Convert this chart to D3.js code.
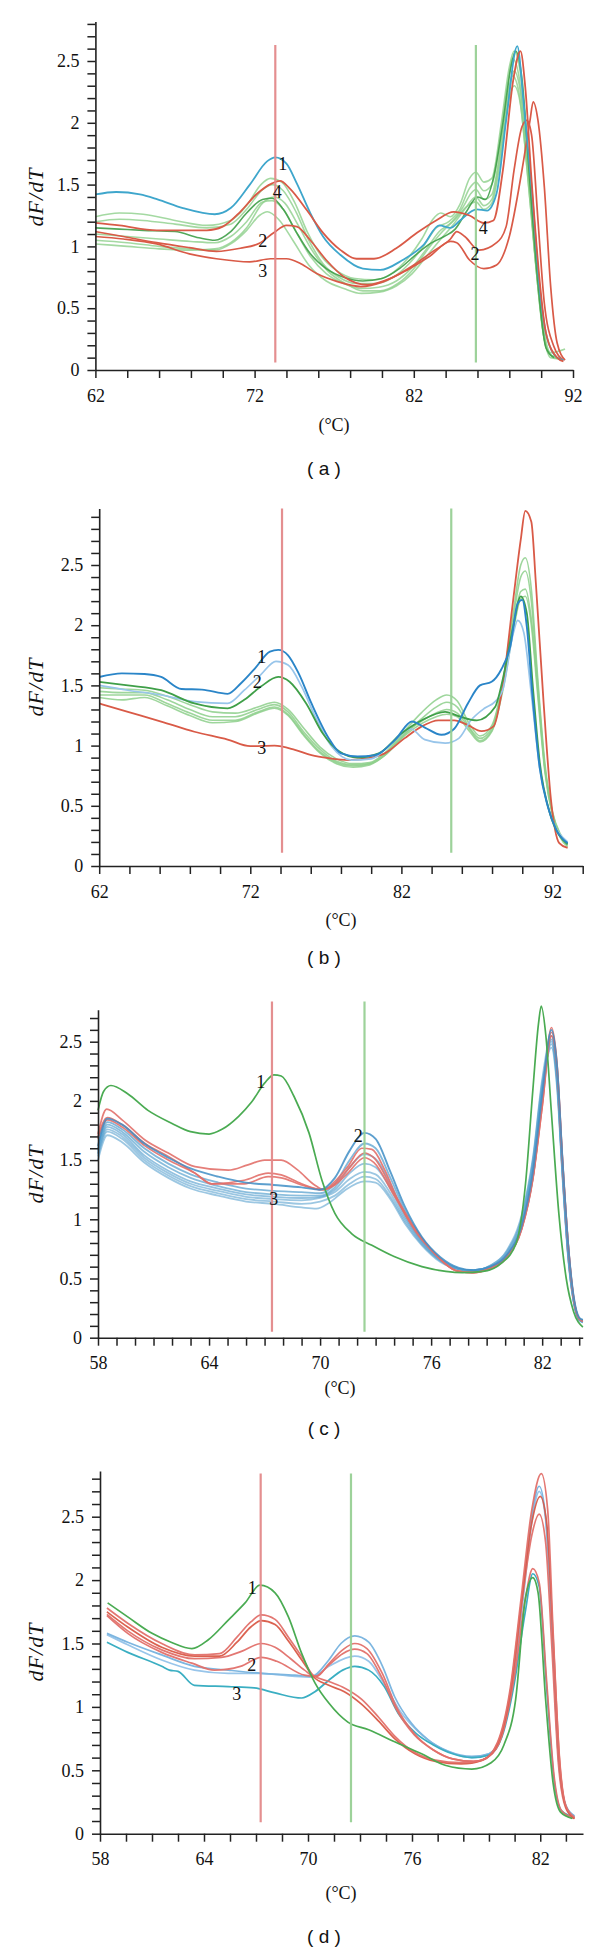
<!DOCTYPE html>
<html><head><meta charset="utf-8">
<script src="https://cdn.jsdelivr.net/npm/d3@7"></script>
<style>body{margin:0;background:#fff}</style>
</head><body>
<svg id="c" width="600" height="1956"></svg>
<script>
// ---------------- Panel (a) data: [temperature °C, dF/dT] ----------------
const aBlue1 = [[62,1.42],[63.3,1.44],[64.8,1.42],[65.9,1.38],[67.5,1.31],[69.5,1.26],[70.5,1.31],[71.7,1.50],[72.8,1.69],[73.3,1.72],[74.0,1.67],[74.65,1.51],[75.5,1.27],[76.3,1.08],[77.4,0.93],[78.8,0.82],[79.9,0.81],[81.3,0.89],[82.6,1.01],[83.6,1.17],[84.3,1.15],[84.9,1.21],[85.95,1.30],[86.6,1.29],[87.2,1.43],[87.8,2.02],[88.5,2.62],[88.9,2.16],[89.4,1.48],[89.9,0.67],[90.35,0.27],[91.0,0.10],[91.4,0.08]];
const aRed4 = [[62,1.19],[63.5,1.17],[65.85,1.13],[69,1.13],[70,1.16],[71.1,1.28],[72.1,1.42],[73.1,1.51],[73.6,1.53],[74.2,1.47],[75.3,1.29],[76.3,1.11],[77.4,0.97],[78.4,0.90],[79.5,0.90],[80.9,0.985],[82.2,1.11],[83.4,1.21],[84.5,1.28],[85.5,1.25],[86.4,1.19],[87.0,1.21],[87.6,1.62],[88.25,2.35],[88.7,2.58],[89.0,2.29],[89.4,1.53],[89.9,0.73],[90.3,0.30],[91,0.10],[91.4,0.07]];
const aRed2 = [[62,1.12],[63.75,1.08],[65.85,1.03],[67.9,0.99],[69.6,0.96],[71.1,0.985],[72.3,1.025],[73.2,1.11],[74.0,1.17],[74.65,1.16],[75.5,1.05],[76.5,0.89],[77.6,0.755],[79.1,0.69],[80.5,0.74],[82,0.85],[83.2,0.96],[84.3,1.06],[84.7,1.12],[85.2,1.08],[86.1,0.97],[87.2,1.03],[87.8,1.16],[88.3,1.62],[88.8,1.97],[89.1,2.02],[89.4,1.90],[89.8,1.21],[90.2,0.54],[90.8,0.19],[91.4,0.08]];
const aRed3 = [[62,1.08],[63.75,1.06],[65.85,1.02],[67.9,0.94],[69.6,0.90],[71.7,0.875],[73.0,0.90],[74,0.90],[74.9,0.86],[75.9,0.78],[77.2,0.715],[78.7,0.675],[80.1,0.715],[81.6,0.81],[83,0.92],[84.3,1.04],[84.7,1.03],[85.5,0.89],[86.4,0.82],[87.2,0.85],[88.0,1.08],[88.8,1.62],[89.3,2.02],[89.5,2.17],[89.8,2.02],[90.2,1.48],[90.6,0.67],[91.0,0.22],[91.5,0.08]];
const aGreenDark = [[62,1.15],[63.5,1.14],[65,1.13],[67,1.12],[68.5,1.07],[69.5,1.05],[70.5,1.12],[71.5,1.27],[72.5,1.38],[73.1,1.39],[73.8,1.30],[74.6,1.12],[75.5,0.94],[76.5,0.82],[77.6,0.75],[78.8,0.72],[80,0.74],[81.1,0.82],[82.1,0.93],[83,1.02],[83.9,1.08],[84.6,1.14],[85.3,1.28],[86,1.40],[86.5,1.38],[87,1.55],[87.6,2.00],[88.1,2.45],[88.4,2.58],[88.8,2.35],[89.3,1.50],[89.8,0.70],[90.3,0.18],[90.8,0.10]];
const aGreen1 = [[62,1.24],[63.5,1.27],[65,1.26],[67,1.21],[69,1.17],[70.5,1.21],[71.5,1.33],[72.4,1.50],[73,1.55],[73.7,1.52],[74.5,1.36],[75.3,1.12],[76.2,0.92],[77.2,0.80],[78.3,0.74],[79.5,0.73],[80.6,0.78],[81.6,0.90],[82.5,1.06],[83.2,1.22],[83.7,1.27],[84.3,1.24],[84.9,1.34],[85.5,1.55],[85.9,1.60],[86.4,1.52],[86.9,1.55],[87.5,2.00],[88.0,2.45],[88.3,2.58],[88.7,2.40],[89.2,1.70],[89.7,0.90],[90.2,0.30],[90.6,0.14],[91.5,0.17]];
const aGreen2 = [[62,1.20],[63.5,1.22],[65,1.21],[67,1.18],[69,1.15],[70.5,1.18],[71.5,1.30],[72.5,1.46],[73.1,1.50],[73.8,1.45],[74.6,1.28],[75.4,1.05],[76.3,0.86],[77.3,0.75],[78.4,0.70],[79.6,0.70],[80.7,0.75],[81.7,0.86],[82.6,1.00],[83.4,1.15],[84.2,1.20],[84.9,1.30],[85.5,1.47],[85.9,1.52],[86.4,1.45],[86.9,1.50],[87.5,1.95],[88.0,2.40],[88.2,2.52],[88.6,2.38],[89.1,1.75],[89.6,0.95],[90.1,0.32],[90.5,0.13],[91.0,0.10]];
const aGreen3 = [[62,1.10],[64,1.08],[66,1.06],[68,1.04],[69.5,1.03],[70.5,1.08],[71.5,1.20],[72.5,1.36],[73.1,1.37],[73.8,1.30],[74.6,1.12],[75.5,0.92],[76.5,0.78],[77.6,0.70],[78.7,0.66],[79.8,0.67],[80.9,0.72],[81.9,0.83],[82.8,0.98],[83.6,1.12],[84.4,1.20],[85.1,1.32],[85.6,1.43],[85.9,1.46],[86.4,1.38],[86.9,1.42],[87.5,1.85],[88.0,2.30],[88.3,2.42],[88.7,2.25],[89.2,1.60],[89.7,0.80],[90.2,0.25],[90.6,0.10],[91.2,0.09]];
const aGreen4 = [[62,1.05],[64,1.03],[66,1.00],[68,0.98],[69.5,0.97],[70.5,1.02],[71.5,1.13],[72.3,1.25],[72.8,1.28],[73.5,1.22],[74.4,1.05],[75.4,0.85],[76.5,0.72],[77.6,0.66],[78.7,0.62],[79.8,0.63],[80.9,0.68],[81.9,0.78],[82.8,0.92],[83.7,1.06],[84.5,1.18],[85.2,1.30],[85.9,1.40],[86.4,1.33],[86.9,1.38],[87.5,1.80],[88.0,2.20],[88.3,2.30],[88.7,2.15],[89.2,1.50],[89.8,0.70],[90.3,0.20],[90.8,0.10],[91.3,0.09]];
const aGreen5 = [[62,1.02],[64,1.00],[66,0.98],[68,0.97],[69.5,0.98],[70.5,1.03],[71.5,1.15],[72.5,1.35],[73.2,1.40],[73.9,1.35],[74.7,1.18],[75.6,0.97],[76.6,0.80],[77.7,0.70],[78.8,0.64],[79.9,0.64],[81,0.70],[82,0.82],[82.9,0.98],[83.8,1.12],[84.6,1.22],[85.3,1.32],[85.9,1.36],[86.4,1.30],[86.9,1.35],[87.5,1.75],[88.0,2.25],[88.2,2.38],[88.6,2.25],[89.1,1.65],[89.7,0.80],[90.2,0.25],[90.6,0.12],[91.0,0.10]];
const aLabels = [["1",73.77,1.67],["4",73.43,1.44],["2",72.51,1.04],["3",72.51,0.80],["4",86.37,1.15],["2",85.84,0.94]];
const aMarkers = [73.3, 85.9];

// ---------------- Panel (b) ----------------
const bBlue1 = [[62,1.57],[63.5,1.60],[65,1.595],[66.1,1.57],[67.45,1.47],[68.8,1.465],[70.5,1.43],[71.4,1.52],[72.3,1.64],[73.3,1.78],[73.85,1.795],[74.5,1.75],[75.2,1.60],[76.05,1.35],[77.15,1.07],[78.0,0.935],[79.1,0.91],[80.25,0.92],[81.6,1.05],[82.7,1.20],[83.55,1.15],[84.65,1.09],[85.5,1.14],[86.4,1.35],[87.2,1.50],[87.97,1.53],[88.6,1.63],[89.2,1.82],[89.7,2.18],[90.0,2.21],[90.3,1.99],[90.7,1.38],[91.15,0.82],[91.7,0.49],[92.25,0.30],[93.0,0.19]];
const bBlue2 = [[62,1.50],[63.9,1.46],[66.1,1.42],[68.3,1.365],[70.5,1.35],[71.6,1.46],[72.7,1.59],[73.7,1.70],[74.5,1.67],[75.4,1.49],[76.3,1.24],[77.4,0.99],[78.7,0.88],[80,0.89],[81.6,1.05],[82.6,1.14],[83.55,1.05],[84.9,1.02],[85.8,1.06],[86.6,1.21],[87.5,1.31],[88.2,1.365],[88.7,1.46],[89.4,1.93],[89.7,2.04],[90.1,1.94],[90.6,1.43],[91.15,0.82],[91.8,0.45],[93,0.20]];
const bGreen2 = [[62,1.53],[63.9,1.50],[66.1,1.46],[68.3,1.35],[70.5,1.31],[71.6,1.38],[72.7,1.49],[73.85,1.57],[74.6,1.53],[75.7,1.35],[76.8,1.10],[77.9,0.95],[79.1,0.90],[80.5,0.935],[82.0,1.10],[83.35,1.21],[84.9,1.28],[85.9,1.24],[87.0,1.21],[88.2,1.32],[88.7,1.545],[89.4,1.99],[89.9,2.24],[90.3,2.10],[90.7,1.49],[91.15,0.87],[91.8,0.45],[93,0.18]];
const bRed3 = [[62,1.35],[63.9,1.28],[66.1,1.20],[68.3,1.115],[70.5,1.05],[72.0,0.995],[73.6,1.0],[74.95,0.965],[76.05,0.92],[77.2,0.895],[78.5,0.88],[79.8,0.895],[80.9,0.935],[82.2,1.06],[83.35,1.16],[84.45,1.21],[85.5,1.21],[86.4,1.17],[87.3,1.12],[88.1,1.16],[88.7,1.49],[89.4,2.21],[89.9,2.71],[90.2,2.95],[90.6,2.86],[90.9,2.35],[91.4,1.38],[91.9,0.55],[92.45,0.19],[93.0,0.15]];
const bGreen1 = [[62,1.48],[63.5,1.47],[65,1.46],[66.5,1.41],[68,1.34],[69.5,1.28],[71,1.27],[72.5,1.32],[73.6,1.36],[74.5,1.30],[75.5,1.15],[76.6,0.99],[77.7,0.89],[78.8,0.85],[79.9,0.86],[81,0.95],[82.2,1.12],[83.3,1.27],[84.3,1.38],[85.0,1.42],[85.7,1.37],[86.5,1.18],[87.2,1.08],[88,1.17],[88.7,1.52],[89.4,2.10],[89.9,2.50],[90.2,2.56],[90.6,2.30],[91.0,1.60],[91.5,0.85],[92,0.45],[92.5,0.27],[93,0.19]];
const bGreen3 = [[62,1.45],[63.5,1.44],[65,1.44],[66.5,1.38],[68,1.30],[69.5,1.24],[71,1.24],[72.5,1.30],[73.6,1.34],[74.5,1.28],[75.5,1.12],[76.6,0.97],[77.7,0.87],[78.8,0.84],[79.9,0.85],[81,0.93],[82.2,1.09],[83.3,1.22],[84.3,1.32],[85.0,1.36],[85.7,1.32],[86.5,1.15],[87.2,1.06],[88,1.15],[88.7,1.50],[89.4,2.05],[89.9,2.40],[90.2,2.45],[90.6,2.20],[91.0,1.55],[91.5,0.82],[92,0.44],[92.5,0.26],[93,0.18]];
const bGreen4 = [[62,1.42],[63.5,1.42],[65,1.42],[66.5,1.35],[68,1.27],[69.5,1.21],[71,1.21],[72.5,1.28],[73.6,1.32],[74.5,1.26],[75.5,1.10],[76.6,0.95],[77.7,0.86],[78.8,0.83],[79.9,0.85],[81,0.94],[82.2,1.10],[83.3,1.20],[84.3,1.27],[85.0,1.30],[85.7,1.27],[86.5,1.14],[87.2,1.04],[88,1.13],[88.7,1.48],[89.4,1.98],[89.9,2.28],[90.2,2.30],[90.6,2.05],[91.0,1.50],[91.5,0.80],[92,0.43],[92.5,0.25],[93,0.17]];
const bGreen5 = [[62,1.40],[63.5,1.38],[65,1.40],[66.5,1.33],[68,1.25],[69.5,1.19],[71,1.20],[72.5,1.27],[73.6,1.31],[74.5,1.25],[75.5,1.09],[76.6,0.94],[77.7,0.85],[78.8,0.82],[79.9,0.84],[81,0.93],[82.2,1.08],[83.3,1.18],[84.3,1.24],[85.0,1.26],[85.7,1.24],[86.5,1.12],[87.2,1.03],[88,1.12],[88.7,1.45],[89.4,1.95],[89.9,2.22],[90.2,2.24],[90.6,2.00],[91.0,1.45],[91.5,0.78],[92,0.42],[92.5,0.24],[93,0.16]];
const bLabels = [["1",72.75,1.74],["2",72.46,1.53],["3",72.75,0.98]];
const bMarkers = [74.1, 85.3];

// ---------------- Panel (c) ----------------
const cGreen1 = [[58,1.92],[58.3,2.08],[58.7,2.13],[59.6,2.06],[60.7,1.92],[62.0,1.81],[63.0,1.74],[64.0,1.72],[64.7,1.76],[65.6,1.87],[66.3,1.99],[67.0,2.15],[67.5,2.22],[67.9,2.21],[68.6,2.035],[69.4,1.73],[70.1,1.33],[70.8,1.05],[71.7,0.88],[72.8,0.78],[74.0,0.685],[75.5,0.60],[76.8,0.56],[77.7,0.55],[78.8,0.56],[79.8,0.63],[80.6,0.80],[81.1,1.30],[81.5,2.10],[81.8,2.65],[81.95,2.80],[82.2,2.55],[82.5,1.90],[82.9,1.05],[83.3,0.50],[83.7,0.22],[84.2,0.09]];
const cRed1 = [[58,1.72],[58.47,1.93],[59.3,1.84],[60.54,1.67],[61.8,1.56],[63.24,1.445],[65.04,1.415],[66.1,1.46],[67.0,1.50],[67.9,1.50],[68.8,1.415],[69.7,1.29],[70.2,1.25],[70.8,1.32],[71.5,1.445],[72.25,1.60],[72.8,1.59],[73.5,1.415],[74.2,1.16],[75.1,0.91],[76.2,0.71],[77.3,0.57],[78.2,0.55],[79.2,0.58],[80.1,0.68],[80.9,0.92],[81.5,1.35],[82.0,1.95],[82.5,2.58],[82.8,2.30],[83.1,1.50],[83.4,0.80],[83.7,0.33],[84.0,0.16],[84.2,0.14]];
const cRed2 = [[58,1.70],[58.5,1.86],[59.3,1.80],[60.54,1.64],[61.8,1.53],[63.24,1.39],[64.14,1.30],[65.9,1.33],[67.2,1.39],[67.9,1.375],[69.0,1.30],[70.1,1.25],[70.8,1.30],[71.5,1.42],[72.4,1.56],[72.9,1.52],[74.0,1.22],[75.1,0.93],[76.2,0.71],[77.5,0.56],[78.3,0.55],[79.2,0.59],[80.1,0.69],[80.9,0.93],[81.5,1.36],[82.0,1.98],[82.5,2.62],[82.8,2.32],[83.1,1.50],[83.4,0.80],[83.7,0.34],[84.0,0.16],[84.2,0.14]];
const cRed3 = [[58,1.68],[58.5,1.84],[59.3,1.78],[60.54,1.62],[61.8,1.50],[63.24,1.39],[64.14,1.30],[65.9,1.30],[67.2,1.36],[67.9,1.35],[69.0,1.29],[70.1,1.25],[70.8,1.29],[71.5,1.39],[72.4,1.52],[72.9,1.48],[74.0,1.20],[75.1,0.92],[76.2,0.71],[77.5,0.56],[78.3,0.55],[79.2,0.59],[80.1,0.69],[80.9,0.92],[81.5,1.34],[82.0,1.95],[82.5,2.55],[82.8,2.28],[83.1,1.48],[83.4,0.80],[83.7,0.34],[84.0,0.16],[84.2,0.14]];
const cBlue1 = [[58,1.62],[58.5,1.85],[59.3,1.80],[60.5,1.64],[61.8,1.52],[63,1.43],[64.5,1.36],[66,1.31],[67.5,1.29],[69,1.27],[70,1.25],[70.8,1.35],[71.6,1.58],[72.4,1.73],[73,1.68],[73.8,1.40],[74.6,1.10],[75.5,0.85],[76.5,0.68],[77.5,0.59],[78.3,0.57],[79.2,0.60],[80.1,0.70],[80.9,0.95],[81.5,1.40],[82.0,2.05],[82.5,2.60],[82.8,2.30],[83.1,1.50],[83.4,0.80],[83.7,0.35],[84,0.17],[84.2,0.15]];
const cBlue2 = [[58,1.60],[58.5,1.82],[59.3,1.76],[60.5,1.60],[61.8,1.47],[63,1.38],[64.5,1.31],[66,1.26],[67.5,1.24],[69,1.23],[70,1.22],[70.8,1.30],[71.6,1.50],[72.4,1.64],[73,1.60],[73.8,1.35],[74.6,1.07],[75.5,0.84],[76.5,0.67],[77.5,0.58],[78.3,0.56],[79.2,0.59],[80.1,0.69],[80.9,0.93],[81.5,1.35],[82.0,2.00],[82.5,2.55],[82.8,2.25],[83.1,1.45],[83.4,0.75],[83.7,0.33],[84,0.16],[84.2,0.15]];
const cBlue3 = [[58,1.58],[58.5,1.80],[59.3,1.74],[60.5,1.57],[61.8,1.44],[63,1.35],[64.5,1.28],[66,1.23],[67.5,1.21],[69,1.20],[70,1.20],[70.8,1.27],[71.6,1.44],[72.4,1.55],[73,1.51],[73.8,1.30],[74.6,1.04],[75.5,0.82],[76.5,0.66],[77.5,0.58],[78.3,0.56],[79.2,0.59],[80.1,0.70],[80.9,0.96],[81.5,1.42],[82.0,2.05],[82.5,2.52],[82.8,2.20],[83.1,1.40],[83.4,0.72],[83.7,0.32],[84,0.16],[84.2,0.14]];
const cBlue4 = [[58,1.56],[58.5,1.78],[59.3,1.72],[60.5,1.54],[61.8,1.41],[63,1.32],[64.5,1.26],[66,1.21],[67.5,1.19],[69,1.18],[70,1.19],[70.8,1.25],[71.6,1.39],[72.4,1.47],[73,1.44],[73.8,1.26],[74.6,1.02],[75.5,0.81],[76.5,0.66],[77.5,0.58],[78.3,0.57],[79.2,0.60],[80.1,0.71],[80.9,0.98],[81.5,1.45],[82.0,2.10],[82.5,2.48],[82.8,2.15],[83.1,1.38],[83.4,0.70],[83.7,0.31],[84,0.15],[84.2,0.14]];
const cBlue5 = [[58,1.55],[58.5,1.76],[59.3,1.70],[60.5,1.52],[61.8,1.39],[63,1.30],[64.5,1.24],[66,1.19],[67.5,1.17],[69,1.16],[70,1.18],[70.8,1.23],[71.6,1.34],[72.4,1.40],[73,1.38],[73.8,1.22],[74.6,1.00],[75.5,0.80],[76.5,0.65],[77.5,0.58],[78.3,0.57],[79.2,0.60],[80.1,0.72],[80.9,1.00],[81.5,1.48],[82.0,2.12],[82.5,2.45],[82.8,2.12],[83.1,1.35],[83.4,0.68],[83.7,0.30],[84,0.15],[84.2,0.13]];
const cBlue6 = [[58,1.53],[58.5,1.74],[59.3,1.68],[60.5,1.50],[61.8,1.37],[63,1.28],[64.5,1.22],[66,1.17],[67.5,1.15],[69,1.13],[70,1.15],[70.8,1.20],[71.6,1.30],[72.4,1.36],[73,1.34],[73.8,1.19],[74.6,0.98],[75.5,0.79],[76.5,0.65],[77.5,0.58],[78.3,0.57],[79.2,0.61],[80.1,0.73],[80.9,1.02],[81.5,1.50],[82.0,2.15],[82.5,2.50],[82.8,2.18],[83.1,1.38],[83.4,0.70],[83.7,0.31],[84,0.15],[84.2,0.13]];
const cBlue7 = [[58,1.50],[58.5,1.71],[59.3,1.65],[60.5,1.48],[61.8,1.35],[63,1.26],[64.5,1.20],[66,1.15],[67.5,1.13],[69,1.10],[69.8,1.09],[70.5,1.14],[71.3,1.24],[72.4,1.32],[73,1.31],[73.8,1.17],[74.6,0.96],[75.5,0.78],[76.5,0.64],[77.5,0.58],[78.3,0.57],[79.2,0.61],[80.1,0.74],[80.9,1.04],[81.5,1.52],[82.0,2.18],[82.5,2.55],[82.8,2.20],[83.1,1.40],[83.4,0.70],[83.7,0.31],[84,0.15],[84.2,0.13]];
const cLabels = [["1",66.79,2.16],["2",72.06,1.70],["3",67.5,1.17]];
const cMarkers = [67.4, 72.4];

// ---------------- Panel (d) ----------------
const dGreen1 = [[58.44,1.82],[59.6,1.71],[61.0,1.58],[62.1,1.51],[63.3,1.46],[64.25,1.53],[65.4,1.685],[66.37,1.82],[67.23,1.96],[68.1,1.90],[68.87,1.71],[69.64,1.42],[70.4,1.19],[71.2,1.03],[72.3,0.88],[73.5,0.82],[75.0,0.725],[76.45,0.63],[77.55,0.54],[78.8,0.51],[79.7,0.56],[80.3,0.70],[80.85,1.06],[81.3,1.85],[81.65,2.02],[81.9,1.90],[82.25,1.06],[82.6,0.40],[82.95,0.17],[83.5,0.12]];
const dRed1 = [[58.4,1.78],[59.6,1.66],[61.56,1.50],[63.45,1.41],[64.9,1.42],[65.9,1.55],[66.7,1.67],[67.3,1.725],[68.1,1.69],[68.87,1.55],[69.64,1.395],[70.3,1.25],[71.2,1.20],[72.1,1.15],[73.1,1.06],[74.06,0.92],[75.0,0.77],[76.14,0.64],[77.1,0.58],[78.3,0.56],[79.3,0.58],[80.0,0.72],[80.6,1.15],[81.1,1.85],[81.6,2.55],[82.05,2.84],[82.35,2.55],[82.6,1.60],[82.9,0.60],[83.2,0.22],[83.6,0.13]];
const dRed2 = [[58.4,1.75],[59.6,1.63],[61.56,1.47],[63.45,1.40],[64.9,1.40],[65.9,1.51],[66.7,1.63],[67.3,1.68],[68.1,1.65],[68.87,1.52],[69.64,1.37],[70.3,1.24],[71.2,1.17],[72.1,1.12],[73.1,1.02],[74.06,0.89],[75.0,0.75],[76.14,0.63],[77.1,0.57],[78.3,0.55],[79.3,0.58],[80.0,0.71],[80.6,1.12],[81.1,1.80],[81.6,2.45],[82.0,2.66],[82.3,2.45],[82.6,1.55],[82.9,0.58],[83.2,0.21],[83.6,0.12]];
const dRed3 = [[58.4,1.73],[59.6,1.60],[61.56,1.45],[63.45,1.38],[65.0,1.39],[66.2,1.44],[67.3,1.50],[68.1,1.47],[69.0,1.38],[69.8,1.29],[70.4,1.24],[71.2,1.33],[72.0,1.42],[72.7,1.455],[73.4,1.42],[74.3,1.22],[75.1,0.98],[76.1,0.78],[77.0,0.66],[77.9,0.59],[78.9,0.57],[79.6,0.61],[80.2,0.77],[80.7,1.20],[81.2,1.90],[81.6,2.35],[81.95,2.52],[82.25,2.30],[82.55,1.45],[82.85,0.55],[83.2,0.20],[83.6,0.12]];
const dRed4 = [[58.4,1.72],[59.6,1.58],[61.56,1.43],[63.3,1.345],[64.6,1.29],[66.1,1.32],[67.3,1.39],[68.2,1.36],[69.8,1.25],[70.5,1.24],[71.2,1.34],[72.0,1.45],[72.7,1.50],[73.4,1.46],[74.3,1.26],[75.1,1.00],[76.1,0.79],[77.0,0.66],[77.9,0.59],[78.9,0.57],[79.6,0.61],[80.2,0.77],[80.8,1.25],[81.3,1.85],[81.65,2.09],[81.95,1.98],[82.3,1.20],[82.65,0.45],[83.0,0.18],[83.6,0.12]];
const dBlue1 = [[58.4,1.58],[59.6,1.51],[61.56,1.41],[63.45,1.32],[65.4,1.29],[67.3,1.265],[69.25,1.25],[70.2,1.24],[71.2,1.37],[71.9,1.50],[72.7,1.56],[73.5,1.51],[74.3,1.32],[75.0,1.08],[75.97,0.87],[76.76,0.74],[77.7,0.65],[78.8,0.61],[79.6,0.63],[80.2,0.78],[80.7,1.20],[81.2,1.90],[81.6,2.50],[81.95,2.74],[82.25,2.50],[82.55,1.60],[82.85,0.60],[83.2,0.22],[83.6,0.14]];
const dBlue2 = [[58.4,1.57],[59.6,1.49],[61.56,1.37],[63.45,1.29],[65.4,1.265],[67.3,1.265],[69.25,1.24],[70.2,1.235],[71.2,1.32],[72.7,1.40],[73.5,1.36],[74.4,1.18],[75.3,0.97],[76.2,0.82],[76.9,0.72],[77.8,0.64],[78.8,0.60],[79.6,0.63],[80.2,0.78],[80.7,1.18],[81.2,1.85],[81.6,2.45],[81.95,2.70],[82.25,2.48],[82.55,1.60],[82.85,0.60],[83.2,0.22],[83.6,0.14]];
const dTeal3 = [[58.4,1.51],[59.6,1.43],[61.56,1.32],[62.0,1.29],[62.5,1.28],[63.45,1.17],[65.4,1.16],[66.9,1.15],[68.1,1.11],[69.64,1.07],[70.4,1.12],[71.2,1.21],[72.0,1.29],[72.7,1.32],[73.5,1.29],[74.4,1.16],[75.2,0.95],[76.2,0.79],[77.0,0.70],[77.9,0.63],[78.8,0.60],[79.6,0.62],[80.2,0.76],[80.8,1.20],[81.3,1.75],[81.65,2.05],[81.95,1.95],[82.3,1.15],[82.65,0.42],[83.0,0.18],[83.6,0.13]];
const dLabels = [["1",66.79,1.935],["2",66.75,1.33],["3",65.89,1.10]];
const dMarkers = [67.27, 72.48];

// ---------------- Axis ticks ----------------
const abXTicks = d3.range(62, 92.01, 2);
const bXTicks = d3.range(62, 94.01, 2);
const abXLabels = [62, 72, 82, 92];
const cXTicks = d3.range(58, 84.01, 1);
const dXTicks = d3.range(58, 76, 1.5).concat([76, 77.2, 78.4, 79.6, 80.8, 82, 83.2]);
const cdXLabels = [58, 64, 70, 76, 82];
const yLabels = [0, 0.5, 1, 1.5, 2, 2.5];
const aYTicks = d3.range(0, 28.5, 1).map(v => v / 10);
const bYTicks = d3.range(0, 29.5, 1).map(v => v / 10);
const cYTicks = d3.range(0, 27.5, 1).map(v => v / 10);
const dYTicks = d3.range(0, 28.5, 1).map(v => v / 10);

// ---------------- Styles ----------------
const SERIF = "'Liberation Serif', 'Times New Roman', serif";
const SANS = "'Liberation Sans', Arial, sans-serif";
const RED = "#d95a47", RED_L = "#e2706a", BLUE_A = "#3ea6cc", GREEN_D = "#3f9f48", GREEN_L = "#8dcf8b";
const BLUE_D = "#2a85c8", BLUE_L = "#98c5ea", BLUE_C = "#5aa2cf", TEAL = "#3aaec2";

const panels = [
  { id:"a", xDom:[62,92], xRange:[95.4,573], yMax:2.82, y0:370, yPerUnit:123.6,
    xTicks:abXTicks, xLabels:abXLabels, yTicks:aYTicks, markers:aMarkers, markerTop:2.63, markerBot:0.06,
    labels:aLabels, yLab:197, cLab:425, pLab:468, cx:334,
    series:[
      [aGreen5,GREEN_L,0.8,1.6],[aGreen4,GREEN_L,0.8,1.6],[aGreen3,GREEN_L,0.8,1.6],[aGreen2,GREEN_L,0.8,1.6],[aGreen1,GREEN_L,0.8,1.6],
      [aGreenDark,GREEN_D,0.9,1.6],[aRed3,RED,1,1.7],[aRed2,RED,1,1.7],[aBlue1,BLUE_A,1,1.8],[aRed4,RED,1,1.8]] },
  { id:"b", xDom:[62,94], xRange:[99.2,582.7], yMax:2.97, y0:866, yPerUnit:120.4,
    xTicks:bXTicks, xLabels:abXLabels, yTicks:bYTicks, markers:bMarkers, markerTop:2.97, markerBot:0.11,
    labels:bLabels, yLab:687, cLab:920, pLab:957, cx:341,
    series:[
      [bGreen5,GREEN_L,0.85,1.6],[bGreen4,GREEN_L,0.85,1.6],[bGreen3,GREEN_L,0.85,1.6],[bGreen1,GREEN_L,0.85,1.6],
      [bRed3,RED,1,1.8],[bBlue2,BLUE_L,1,1.7],[bGreen2,GREEN_D,1,1.8],[bBlue1,BLUE_D,1,1.9]] },
  { id:"c", xDom:[58,84.19], xRange:[98,582.7], yMax:2.77, y0:1337.7, yPerUnit:118.4,
    xTicks:cXTicks, xLabels:cdXLabels, yTicks:cYTicks, markers:cMarkers, markerTop:2.84, markerBot:0.05,
    labels:cLabels, yLab:1174, cLab:1388, pLab:1428, cx:340,
    series:[
      [cBlue7,BLUE_C,0.6,1.8],[cBlue6,BLUE_C,0.6,1.8],[cBlue5,BLUE_C,0.6,1.8],[cBlue4,BLUE_C,0.65,1.8],[cBlue3,BLUE_C,0.7,1.8],[cBlue2,BLUE_C,0.75,1.8],
      [cRed3,RED_L,0.9,1.7],[cRed2,RED_L,0.9,1.7],[cRed1,RED_L,0.9,1.7],[cBlue1,"#3f8ec6",0.85,1.9],[cGreen1,"#4aab52",1,1.7]] },
  { id:"d", xDom:[58,76,84], xRange:[100,412,583], yMax:2.86, y0:1833.7, yPerUnit:126.8,
    xTicks:dXTicks, xLabels:cdXLabels, yTicks:dYTicks, markers:dMarkers, markerTop:2.84, markerBot:0.09,
    labels:dLabels, yLab:1652, cLab:1893, pLab:1936, cx:341,
    series:[
      [dBlue2,BLUE_L,1,1.7],[dBlue1,"#7db6e0",1,1.7],[dTeal3,TEAL,1,1.7],
      [dRed4,RED_L,0.95,1.7],[dRed3,RED_L,0.95,1.7],[dRed2,RED,0.95,1.7],[dRed1,RED_L,0.95,1.7],[dGreen1,"#4aab52",1,1.7]] }
];

const svg = d3.select("#c");
const fmt = v => (Math.round(v * 10) / 10).toString();

panels.forEach(p => {
  const x = d3.scaleLinear().domain(p.xDom).range(p.xRange);
  const y = d3.scaleLinear().domain([0, p.yMax]).range([p.y0, p.y0 - p.yMax * p.yPerUnit]);
  const g = svg.append("g");

  const line = d3.line().x(d => x(d[0])).y(d => y(d[1])).curve(d3.curveMonotoneX);
  p.series.forEach(([data, color, op, w]) => {
    g.append("path").datum(data).attr("d", line)
      .attr("fill", "none").attr("stroke", color).attr("stroke-opacity", op)
      .attr("stroke-width", w).attr("stroke-linejoin", "round");
  });

  const mColors = ["#e3898a", "#98d095"];
  p.markers.forEach((m, i) => {
    g.append("line").attr("x1", x(m)).attr("x2", x(m))
      .attr("y1", y(p.markerTop)).attr("y2", y(p.markerBot))
      .attr("stroke", mColors[i]).attr("stroke-width", 2.2).attr("stroke-opacity", 0.95);
  });

  g.selectAll("text.lab").data(p.labels).join("text")
    .attr("x", d => x(d[1])).attr("y", d => y(d[2]))
    .attr("text-anchor", "middle").attr("dominant-baseline", "central")
    .style("font-family", SERIF).attr("font-size", 18).attr("fill", "#111")
    .text(d => d[0]);

  const xAxis = d3.axisBottom(x).tickValues(p.xTicks).tickSize(8).tickSizeOuter(0).tickPadding(11)
    .tickFormat(v => p.xLabels.some(l => Math.abs(l - v) < 1e-6) ? String(Math.round(v)) : "");
  const yAxis = d3.axisLeft(y).tickValues(p.yTicks).tickSize(8).tickSizeOuter(0).tickPadding(8)
    .tickFormat(v => yLabels.some(l => Math.abs(l - v) < 1e-6) ? fmt(v) : "");
  const gx = g.append("g").attr("transform", `translate(0,${p.y0})`).call(xAxis);
  const gy = g.append("g").attr("transform", `translate(${p.xRange[0]},0)`).call(yAxis);
  [gx, gy].forEach(a => {
    a.attr("font-family", null).attr("font-size", null);
    a.selectAll("path.domain").attr("stroke", "#222").attr("stroke-width", 1.6);
    a.selectAll(".tick line").attr("stroke", "#222").attr("stroke-width", 1.5);
    a.selectAll("text").style("font-family", SERIF).style("font-size", "18px").attr("fill", "#111");
  });

  g.append("text").attr("transform", `translate(35,${p.yLab}) rotate(-90)`)
    .attr("text-anchor", "middle").attr("dominant-baseline", "central")
    .style("font-family", SERIF).style("font-style", "italic")
    .attr("font-size", 22).attr("letter-spacing", 1).attr("fill", "#111").text("dF/dT");
  g.append("text").attr("x", p.cx).attr("y", p.cLab)
    .attr("text-anchor", "middle").attr("dominant-baseline", "central")
    .style("font-family", SERIF).attr("font-size", 18).attr("fill", "#111").text("(°C)");
  g.append("text").attr("x", 324).attr("y", p.pLab)
    .attr("text-anchor", "middle").attr("dominant-baseline", "central")
    .style("font-family", SANS).attr("font-size", 19).attr("fill", "#111")
    .text(`( ${p.id} )`);
});
</script>
</body></html>
